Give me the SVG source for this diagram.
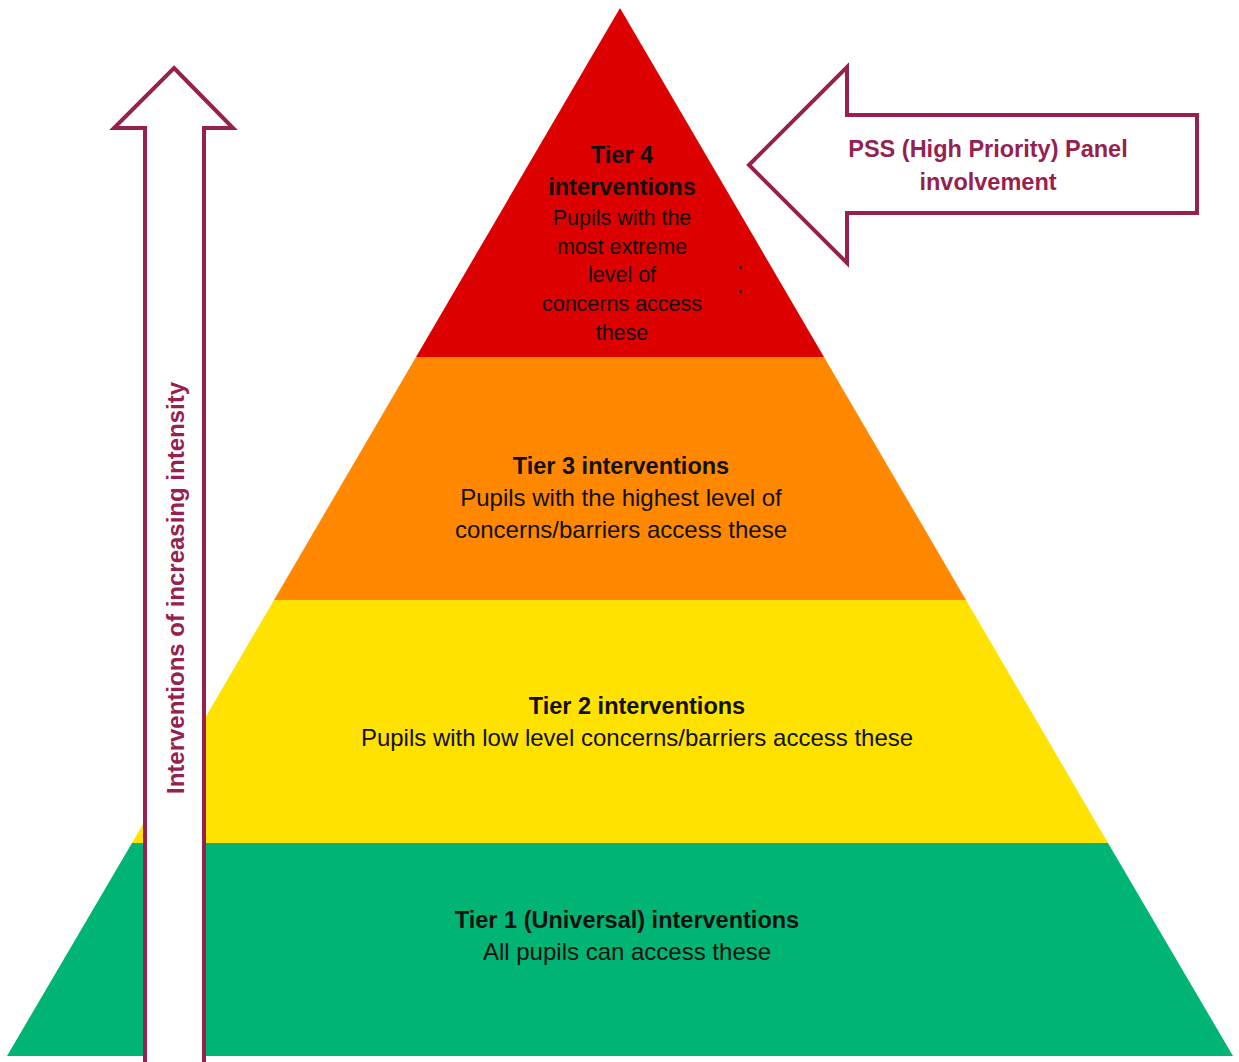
<svg xmlns="http://www.w3.org/2000/svg" width="1239" height="1062" viewBox="0 0 1239 1062">
<style>
.t{font-family:"Liberation Sans",Arial,sans-serif;fill:#111;text-anchor:middle;font-size:24px}
.b{font-weight:bold;font-size:23.5px}
.s{font-size:21.5px}
.m{font-family:"Liberation Sans",Arial,sans-serif;fill:#96214F;font-weight:bold;text-anchor:middle}
.arr{fill:#fff;stroke:#96214F;stroke-width:4;stroke-linejoin:miter}
</style>
<rect width="1239" height="1062" fill="#fff"/>
<g id="tier1">
<polygon points="132,843 1108,843 1233,1056 7,1056" fill="#00B574"/>
<text class="t b" x="627" y="928">Tier 1 (Universal) interventions</text>
<text class="t" x="627" y="960">All pupils can access these</text>
</g>
<g id="tier2">
<polygon points="274,600 966,600 1108,843 132,843" fill="#FFE200"/>
<text class="t b" x="637" y="714">Tier 2 interventions</text>
<text class="t" x="637" y="746">Pupils with low level concerns/barriers access these</text>
</g>
<g id="tier3">
<polygon points="416,357 824,357 966,600 274,600" fill="#FF8800"/>
<text class="t b" x="621" y="474">Tier 3 interventions</text>
<text class="t" x="621" y="506">Pupils with the highest level of</text>
<text class="t" x="621" y="538">concerns/barriers access these</text>
</g>
<g id="tier4">
<polygon points="620,8 824,357 416,357" fill="#DD0000"/>
<text class="t b" x="622" y="163">Tier 4</text>
<text class="t b" x="622" y="195">interventions</text>
<text class="t s" x="622" y="225">Pupils with the</text>
<text class="t s" x="622" y="254">most extreme</text>
<text class="t s" x="622" y="282">level of</text>
<text class="t s" x="622" y="311">concerns access</text>
<text class="t s" x="622" y="340">these</text>
<rect x="739" y="266" width="3" height="3" fill="#222"/>
<rect x="739" y="290" width="3" height="3" fill="#222"/>
</g>
<g id="connectors">
<g id="intensity-arrow">
<path class="arr" d="M174,68 L233,128 L204,128 L204,1075 L145,1075 L145,128 L114,128 Z"/>
<text class="m" font-size="24" transform="translate(184,588) rotate(-90)" x="0" y="0">Interventions of increasing intensity</text>
</g>
<g id="pss-arrow">
<path class="arr" d="M749,165 L847,67 L847,115 L1197,115 L1197,213 L847,213 L847,263 Z"/>
<text class="m" font-size="23.5" x="988" y="157">PSS (High Priority) Panel</text>
<text class="m" font-size="23.5" x="988" y="190">involvement</text>
</g>
</g>
</svg>
